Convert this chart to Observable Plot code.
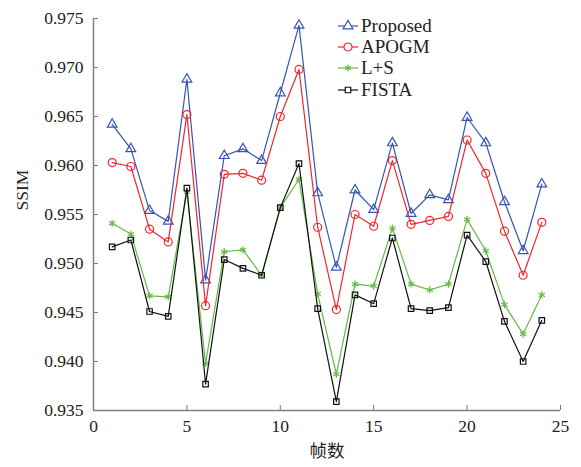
<!DOCTYPE html>
<html><head><meta charset="utf-8">
<script src="https://cdn.jsdelivr.net/npm/d3@7"></script>
<script src="https://cdn.jsdelivr.net/npm/@observablehq/plot@0.6"></script>
<style>
body{margin:0;background:#fff;}
#wrap{position:relative;width:581px;height:467px;}
#legend{position:absolute;left:338px;top:15px;font-family:"Liberation Serif",serif;font-size:19px;color:#222;}
#legend .row{display:flex;align-items:center;height:21.4px;}
#legend svg{margin-right:2px;}
</style></head>
<body><div id="wrap"><div id="legend"></div></div>
<script>
const frames = d3.range(1, 25);
const proposed = [0.9642,0.9617,0.9554,0.9543,0.9688,0.9483,0.9610,0.9617,0.9605,0.9674,0.9743,0.9572,0.9496,0.9575,0.9555,0.9623,0.9551,0.9570,0.9565,0.9649,0.9623,0.9563,0.9513,0.9581];
const apogm    = [0.9603,0.9599,0.9535,0.9522,0.9652,0.9457,0.9591,0.9592,0.9585,0.9650,0.9698,0.9537,0.9453,0.9550,0.9538,0.9605,0.9540,0.9544,0.9548,0.9626,0.9592,0.9533,0.9488,0.9542];
const ls       = [0.9541,0.9530,0.9467,0.9466,0.9573,0.9398,0.9512,0.9514,0.9488,0.9557,0.9586,0.9469,0.9387,0.9479,0.9477,0.9536,0.9479,0.9473,0.9479,0.9545,0.9513,0.9458,0.9428,0.9468];
const fista    = [0.9517,0.9524,0.9451,0.9446,0.9577,0.9377,0.9504,0.9495,0.9488,0.9557,0.9602,0.9454,0.9359,0.9468,0.9459,0.9526,0.9454,0.9452,0.9455,0.9529,0.9502,0.9441,0.9400,0.9442];
const seriesNames = ["Proposed","APOGM","L+S","FISTA"];
const xTicks = [0,5,10,15,20,25];
const yTicks = [0.935,0.940,0.945,0.950,0.955,0.960,0.965,0.970,0.975];
const xLabel = "帧数";
const yLabel = "SSIM";

const styles = [
  {values: proposed, color:"#3555b5", symbol:"triangle", r:3.6},
  {values: apogm,    color:"#f0262c", symbol:"circle",   r:4},
  {values: ls,       color:"#63ba45", symbol:"asterisk", r:3.4},
  {values: fista,    color:"#111111", symbol:"square",   r:3.1}
];
const rows = [];
styles.forEach((s,k) => s.values.forEach((v,i) => rows.push({series: seriesNames[k], frame: frames[i], ssim: v})));

const marks = [];
styles.forEach((s,k) => {
  const d = rows.filter(r => r.series === seriesNames[k]);
  marks.push(Plot.line(d, {x:"frame", y:"ssim", stroke:s.color, strokeWidth:1.2}));
  marks.push(Plot.dot(d, {x:"frame", y:"ssim", stroke:s.color, fill:"none", symbol:s.symbol, r:s.r, strokeWidth:1.2}));
});

const chart = Plot.plot({
  width:581, height:467,
  marginLeft:93, marginRight:21, marginTop:18, marginBottom:57,
  style:{fontFamily:"Liberation Serif, serif", fontSize:"17.5px", color:"#222", background:"#fff"},
  x:{domain:[0,25]},
  y:{domain:[0.935,0.975]},
  marks:[
    Plot.axisX(xTicks, {tickSize:0, tickPadding:9, fontSize:17.5, label:null}),
    Plot.axisX(xTicks, {tickSize:5, dy:-5, text:null, stroke:"#777", label:null}),
    Plot.axisY(yTicks, {tickSize:0, tickPadding:10, fontSize:17.5, tickFormat:d3.format(".3f"), label:null}),
    Plot.axisY(yTicks, {tickSize:5, dx:5, text:null, stroke:"#777", label:null}),
    Plot.ruleX([0], {stroke:"#808080", strokeWidth:1.5}),
    Plot.ruleY([0.935], {stroke:"#808080", strokeWidth:1.5}),
    ...marks,
    Plot.text([yLabel], {frameAnchor:"left", dx:-71, dy:-4, rotate:-90, fontSize:17.5, fill:"#222"}),
    Plot.text([xLabel], {frameAnchor:"bottom", dy:46, fontSize:17.5, fontFamily:"Noto Sans CJK SC", fill:"#222"})
  ]
});
document.getElementById("wrap").prepend(chart);

const legend = d3.select("#legend");
styles.forEach((s,k) => {
  const row = legend.append("div").attr("class","row");
  const svg = row.append("svg").attr("width",21).attr("height",16);
  svg.append("line").attr("x1",0).attr("x2",20).attr("y1",8).attr("y2",8).attr("stroke",s.color).attr("stroke-width",1.2);
  const symMap = {triangle:d3.symbolTriangle, circle:d3.symbolCircle, square:d3.symbolSquare, asterisk:d3.symbolAsterisk};
  const size = Math.PI*s.r*s.r;
  let path;
  if (s.symbol === "asterisk") {
    const r = s.r;
    path = d3.range(3).map(i => { const a = i*Math.PI/3 + Math.PI/2; return `M${-r*Math.cos(a)},${-r*Math.sin(a)}L${r*Math.cos(a)},${r*Math.sin(a)}`; }).join("");
  } else path = d3.symbol(symMap[s.symbol], size)();
  svg.append("path").attr("d",path).attr("transform","translate(10,8)").attr("fill","#fff").attr("stroke",s.color).attr("stroke-width",1.2);
  row.append("span").text(seriesNames[k]);
});
</script></body></html>
